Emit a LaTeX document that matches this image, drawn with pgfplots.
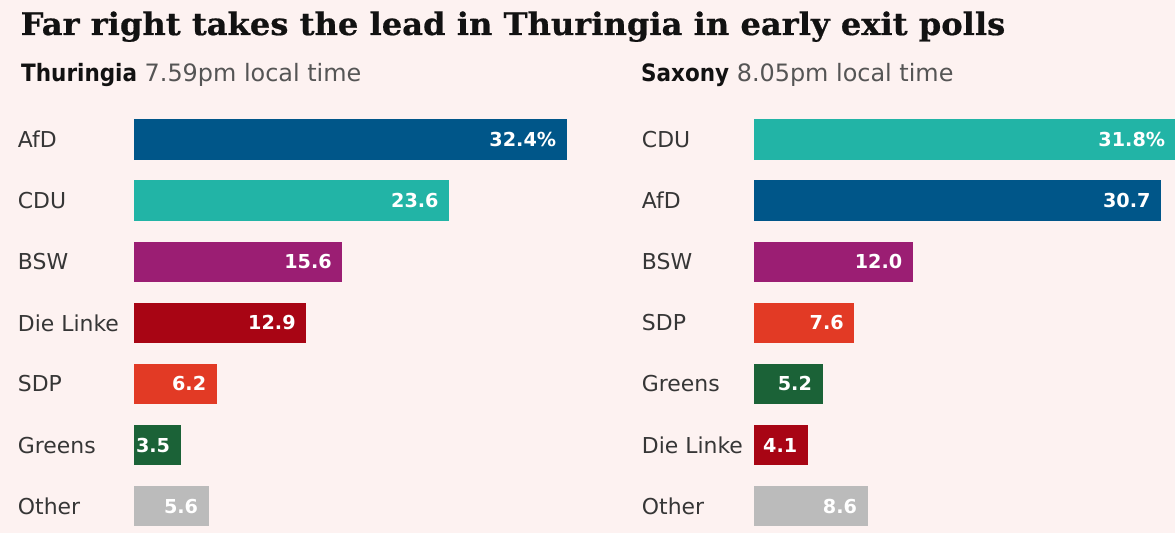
\documentclass[border=0pt]{standalone}
\usepackage{pgfplots}
\pgfplotsset{compat=1.18}
\usepackage{fontspec}
\setmainfont{DejaVu Sans}
\newfontfamily\titlefont{DejaVu Serif}[FakeStretch=1.035, FakeBold=0.6]
\newfontfamily\subbold{DejaVu Sans}[UprightFont=*-Bold, FakeStretch=0.9]
\definecolor{bg}{HTML}{FDF2F1}
\definecolor{titlecol}{HTML}{121212}
\definecolor{labcol}{HTML}{363636}
\definecolor{subgray}{HTML}{555555}
\definecolor{afd}{HTML}{005689}
\definecolor{cdu}{HTML}{22B4A6}
\definecolor{bsw}{HTML}{9B1E73}
\definecolor{linke}{HTML}{A80514}
\definecolor{sdp}{HTML}{E23A25}
\definecolor{greens}{HTML}{1B6237}
\definecolor{other}{HTML}{BBBBBB}
\pgfplotsset{
  panel/.style={
    xbar, bar shift=0pt, bar width=40.5bp,
    scale only axis, height=415.5bp,
    ymin=-0.4, ymax=6.4, y dir=reverse, xmin=0,
    axis line style={draw=none}, tick style={draw=none},
    xtick=\empty, ytick={0,1,2,3,4,5,6},
    yticklabel style={anchor=west, inner sep=0pt, xshift=-#1, text=labcol,
      font=\fontsize{22}{24}\selectfont},
    clip=false, point meta=x,
    nodes near coords,
    nodes near coords align={left},
    every node near coord/.append style={inner sep=0pt, xshift=-10.5bp, text=white,
      font=\fontsize{19.3}{21}\selectfont\bfseries,
      /pgf/number format/.cd, fixed, fixed zerofill, precision=1, assume math mode=true},
  }
}
\begin{document}
\begin{tikzpicture}[x=1bp,y=1bp]
\useasboundingbox (0,0) rectangle (1175,-533);
\fill[bg] (0,0) rectangle (1175,-533);
\node[anchor=base west, inner sep=0, text=titlecol] at (20.5,-35)
  {\titlefont\bfseries\fontsize{31.2}{36}\selectfont Far right takes the lead in Thuringia in early exit polls};
\node[anchor=base west, inner sep=0] at (21,-81.5)
  {\fontsize{24}{28}\selectfont{\subbold\color{titlecol}Thuringia} \textcolor{subgray}{7.59pm local time}};
\node[anchor=base west, inner sep=0] at (641,-81.5)
  {\fontsize{24}{28}\selectfont{\subbold\color{titlecol}Saxony} \textcolor{subgray}{8.05pm local time}};

\begin{axis}[panel=112bp, at={(134bp,-115.1bp)}, anchor=north west,
  xmax=35, width=467.6bp,
  yticklabels={AfD,CDU,BSW,Die Linke,SDP,Greens,Other}]
\addplot[fill=afd, draw=none, nodes near coords={\pgfmathprintnumber{\pgfplotspointmeta}\%}] coordinates {(32.4,0)};
\addplot[fill=cdu, draw=none] coordinates {(23.6,1)};
\addplot[fill=bsw, draw=none] coordinates {(15.6,2)};
\addplot[fill=linke, draw=none] coordinates {(12.9,3)};
\addplot[fill=sdp, draw=none] coordinates {(6.2,4)};
\addplot[fill=greens, draw=none] coordinates {(3.5,5)};
\addplot[fill=other, draw=none] coordinates {(5.6,6)};
\end{axis}

\begin{axis}[panel=107.5bp, at={(753.5bp,-115.1bp)}, anchor=north west,
  xmax=32, width=425bp,
  yticklabels={CDU,AfD,BSW,SDP,Greens,Die Linke,Other}]
\addplot[fill=cdu, draw=none, nodes near coords={\pgfmathprintnumber{\pgfplotspointmeta}\%}] coordinates {(31.8,0)};
\addplot[fill=afd, draw=none] coordinates {(30.7,1)};
\addplot[fill=bsw, draw=none] coordinates {(12.0,2)};
\addplot[fill=sdp, draw=none] coordinates {(7.6,3)};
\addplot[fill=greens, draw=none] coordinates {(5.2,4)};
\addplot[fill=linke, draw=none] coordinates {(4.1,5)};
\addplot[fill=other, draw=none] coordinates {(8.6,6)};
\end{axis}
\end{tikzpicture}
\end{document}
